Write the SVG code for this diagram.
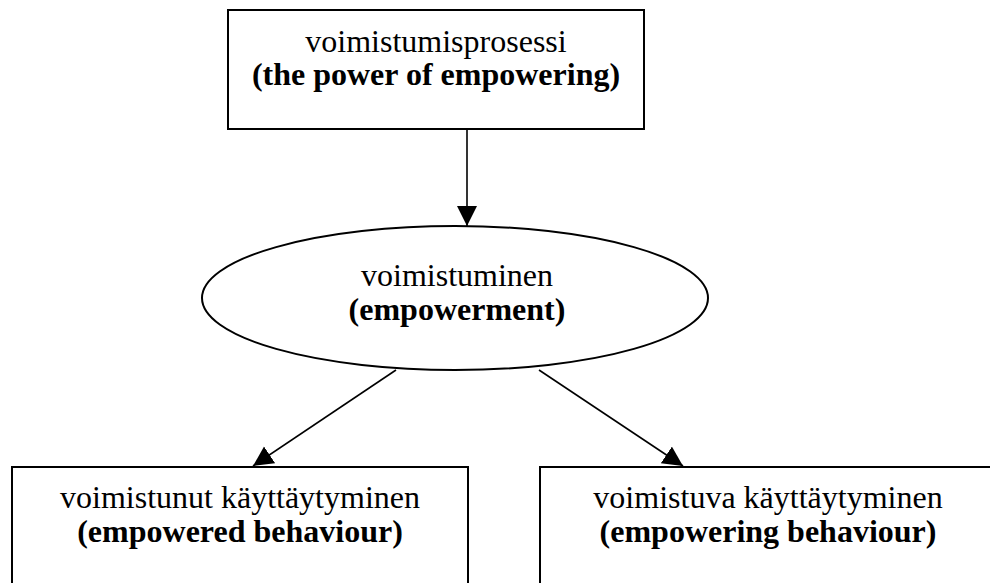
<svg xmlns="http://www.w3.org/2000/svg" width="990" height="583" viewBox="0 0 990 583">
<style>
.box{fill:#fff;stroke:#000;stroke-width:2}
.t{font-family:"Liberation Serif","Times New Roman",serif;font-size:32px;fill:#000;text-anchor:middle}
.b{font-weight:bold}
.c{stroke:#000;stroke-width:1.6;fill:none}
</style>
<defs>
<marker id="ah" markerUnits="userSpaceOnUse" markerWidth="22" markerHeight="22" refX="20" refY="10" orient="auto">
<path d="M0,0 L20,10 L0,20 z" fill="#000"/>
</marker>
</defs>
<rect width="990" height="583" fill="#fff"/>
<g id="connectors">
<line class="c" x1="467" y1="129" x2="467" y2="226" marker-end="url(#ah)"/>
<line class="c" x1="396" y1="370" x2="253" y2="466" marker-end="url(#ah)"/>
<line class="c" x1="539" y1="370" x2="683" y2="466" marker-end="url(#ah)"/>
</g>
<g id="process">
<rect class="box" x="228" y="10" width="416" height="119"/>
<text class="t" x="436" y="52">voimistumisprosessi</text>
<text class="t b" x="436" y="85">(the power of empowering)</text>
</g>
<g id="empowerment">
<ellipse class="box" cx="455" cy="298" rx="253" ry="72"/>
<text class="t" x="457" y="286">voimistuminen</text>
<text class="t b" x="457" y="320">(empowerment)</text>
</g>
<g id="empowered">
<rect class="box" x="12" y="467" width="456" height="130"/>
<text class="t" x="240" y="508">voimistunut käyttäytyminen</text>
<text class="t b" x="240" y="542">(empowered behaviour)</text>
</g>
<g id="empowering">
<rect class="box" x="540" y="467" width="457" height="130"/>
<text class="t" x="768" y="508">voimistuva käyttäytyminen</text>
<text class="t b" x="768" y="542">(empowering behaviour)</text>
</g>
</svg>
